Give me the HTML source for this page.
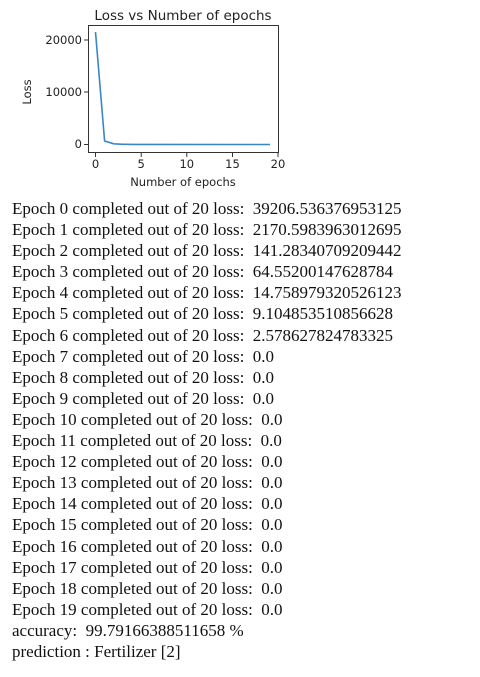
<!DOCTYPE html>
<html><head><style>
body{margin:0;background:#fff;width:480px;height:677px;overflow:hidden;position:relative}
svg{position:absolute;left:0;top:0}
.out{position:absolute;left:12px;top:198px;font-family:"Liberation Serif",serif;font-size:17px;line-height:21.1px;color:#111;white-space:pre}
</style></head><body>
<svg width="300" height="195" font-family="DejaVu Sans, sans-serif" fill="#222">
<text x="183" y="20" font-size="13.5" text-anchor="middle">Loss vs Number of epochs</text>
<rect x="88.5" y="25.5" width="190" height="127" fill="none" stroke="#333" stroke-width="1"/>
<g stroke="#333"><line x1="84" y1="40" x2="88" y2="40"/><line x1="84" y1="92" x2="88" y2="92"/><line x1="84" y1="144.5" x2="88" y2="144.5"/>
<line x1="95.5" y1="153" x2="95.5" y2="157"/><line x1="141.2" y1="153" x2="141.2" y2="157"/><line x1="186.8" y1="153" x2="186.8" y2="157"/><line x1="232.5" y1="153" x2="232.5" y2="157"/><line x1="278" y1="153" x2="278" y2="157"/></g>
<g font-size="11.5" text-anchor="end"><text x="82" y="44">20000</text><text x="82" y="96">10000</text><text x="82" y="148">0</text></g>
<g font-size="11.5" text-anchor="middle"><text x="95.5" y="168">0</text><text x="141.2" y="168">5</text><text x="186.8" y="168">10</text><text x="232.5" y="168">15</text><text x="278" y="168">20</text></g>
<text x="183" y="186" font-size="11.5" text-anchor="middle">Number of epochs</text>
<text transform="translate(31,92) rotate(-90)" font-size="11.5" text-anchor="middle">Loss</text>
<polyline fill="none" stroke="#3a87c8" stroke-width="1.6" points="95.5,32 104.6,141 113.8,143.8 122.9,144.3 132,144.4 270,144.5"/>
</svg>
<div class="out">Epoch 0 completed out of 20 loss:  39206.536376953125
Epoch 1 completed out of 20 loss:  2170.5983963012695
Epoch 2 completed out of 20 loss:  141.28340709209442
Epoch 3 completed out of 20 loss:  64.55200147628784
Epoch 4 completed out of 20 loss:  14.758979320526123
Epoch 5 completed out of 20 loss:  9.104853510856628
Epoch 6 completed out of 20 loss:  2.578627824783325
Epoch 7 completed out of 20 loss:  0.0
Epoch 8 completed out of 20 loss:  0.0
Epoch 9 completed out of 20 loss:  0.0
Epoch 10 completed out of 20 loss:  0.0
Epoch 11 completed out of 20 loss:  0.0
Epoch 12 completed out of 20 loss:  0.0
Epoch 13 completed out of 20 loss:  0.0
Epoch 14 completed out of 20 loss:  0.0
Epoch 15 completed out of 20 loss:  0.0
Epoch 16 completed out of 20 loss:  0.0
Epoch 17 completed out of 20 loss:  0.0
Epoch 18 completed out of 20 loss:  0.0
Epoch 19 completed out of 20 loss:  0.0
accuracy:  99.79166388511658 %
prediction : Fertilizer [2]</div>
</body></html>
